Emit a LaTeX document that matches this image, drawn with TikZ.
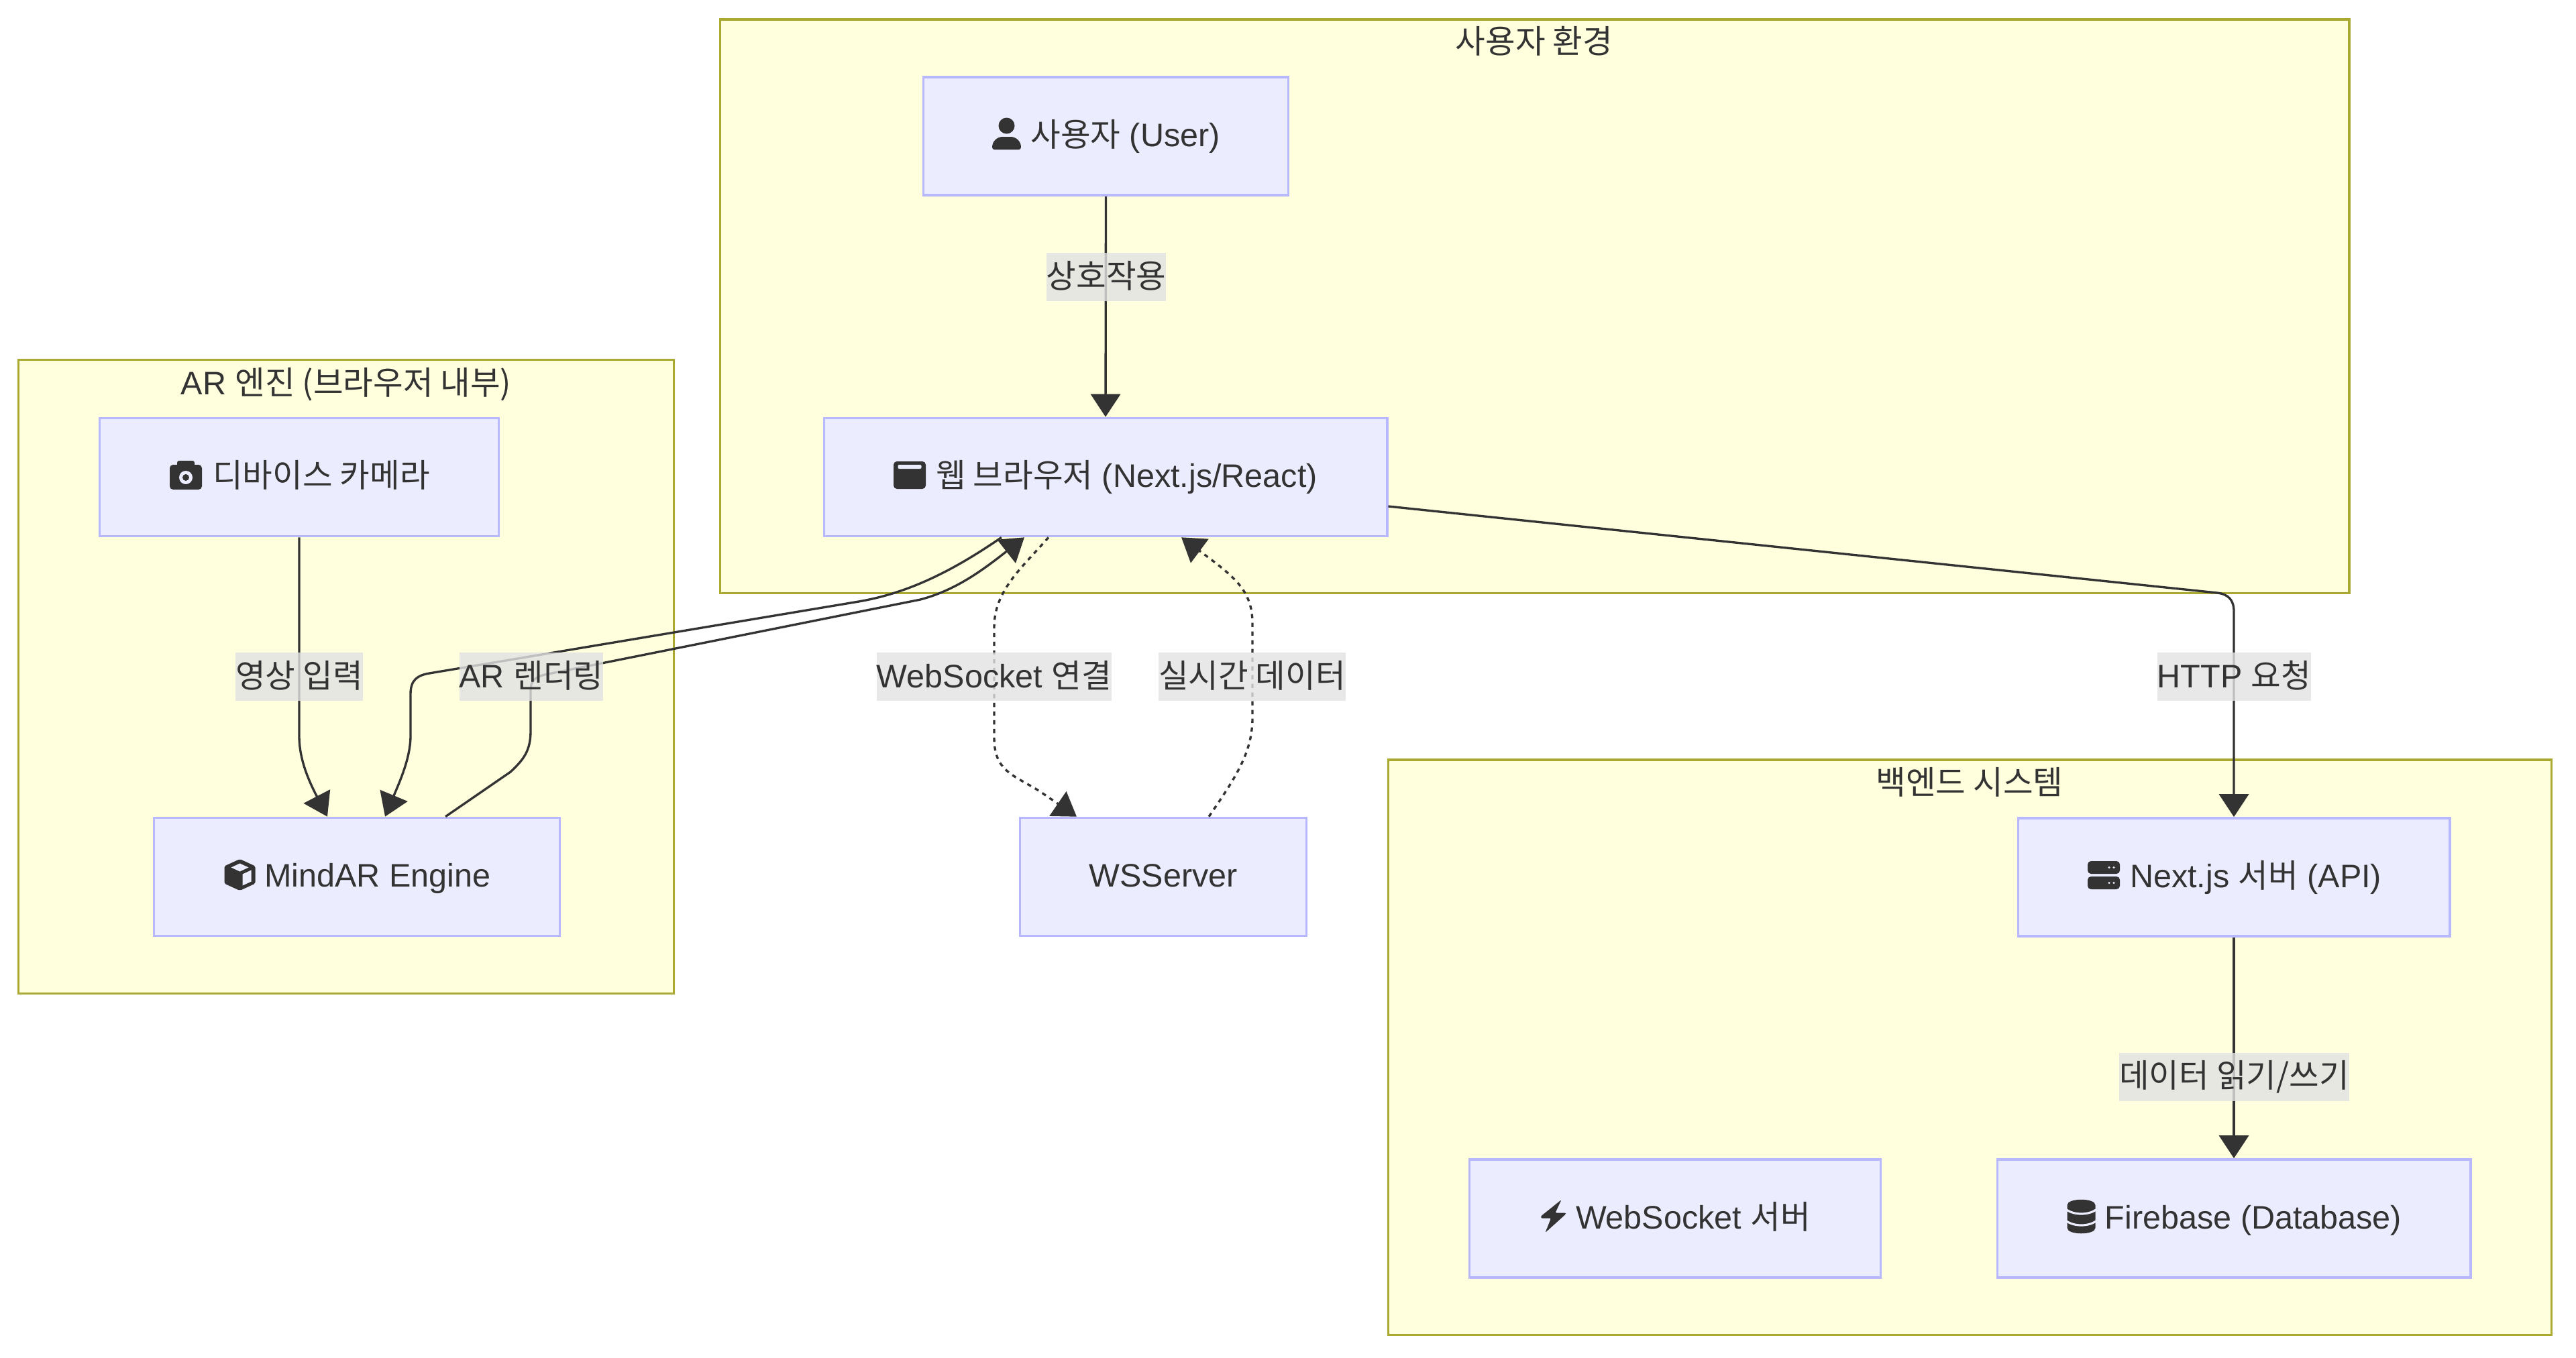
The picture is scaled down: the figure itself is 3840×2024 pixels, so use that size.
\documentclass[tikz,border=0pt]{standalone}
\usepackage{fontspec}
\setmainfont{Liberation Sans}
\newfontfamily\krfont{Noto Sans CJK KR}
\newcommand{\kr}[1]{{\krfont #1}}
\usetikzlibrary{arrows.meta}
\definecolor{inkc}{HTML}{333333}
\definecolor{boxc}{HTML}{ECECFF}
\definecolor{boxline}{HTML}{B8B8FF}
\definecolor{groupc}{HTML}{FFFFDE}
\definecolor{groupline}{HTML}{AAAA33}
\definecolor{tagc}{HTML}{E2E2E2}
\tikzset{
	usericon/.pic={
		\fill[inkc] (0,-12) circle (12);
		\fill[inkc] (-21.5,20) .. controls (-21.5,11) and (-14,4.5) .. (-6,4.5) -- (6,4.5) .. controls (14,4.5) and (21.5,11) .. (21.5,20) .. controls (21.5,22.5) and (20,23.5) .. (18,23.5) -- (-18,23.5) .. controls (-20,23.5) and (-21.5,22.5) .. (-21.5,20) -- cycle;
	},
	windowicon/.pic={
		\fill[inkc,rounded corners=.05cm] (-24,-20.5) rectangle (24,20.5);
		\fill[boxc,rounded corners=.02cm] (-17.5,-15.5) rectangle (17.5,-9.5);
	},
	cameraicon/.pic={
		\fill[inkc,rounded corners=.05cm] (-24,-15.5) rectangle (24,21.5);
		\fill[inkc,rounded corners=.03cm] (-13,-21.5) rectangle (13,-8);
		\fill[boxc] (0,3.5) circle (10);
		\fill[inkc] (0,3.5) circle (5);
	},
	cubeicon/.pic={
		\fill[inkc,rounded corners=.02cm] (0,-23.5) -- (23,-13) -- (23,13) -- (0,23.5) -- (-23,13) -- (-23,-13) -- cycle;
		\fill[boxc] (0,-17) -- (13,-11) -- (0,-5) -- (-13,-11) -- cycle;
		\fill[boxc] (4,-1) -- (17,-7) -- (17,10) -- (4,16) -- cycle;
	},
	servericon/.pic={
		\fill[inkc,rounded corners=.05cm] (-24,-21) rectangle (24,-2);
		\fill[inkc,rounded corners=.05cm] (-24,2) rectangle (24,21);
		\foreach \dotx in {8,15}{
			\fill[boxc] (\dotx,-11.5) circle (1.7);
			\fill[boxc] (\dotx,11.5) circle (1.7);
		}
	},
	dbicon/.pic={
		\fill[inkc] (-21,-17) .. controls (-21,-28) and (21,-28) .. (21,-17) -- (21,17) .. controls (21,28) and (-21,28) .. (-21,17) -- cycle;
		\draw[boxc,line width=.9pt] (-22,-10) .. controls (-10,-2) and (10,-2) .. (22,-10);
		\draw[boxc,line width=.9pt] (-22,7) .. controls (-10,15) and (10,15) .. (22,7);
	},
	bolticon/.pic={
		\fill[inkc,rounded corners=.015cm] (12,-24.5) -- (-18.5,0) -- (-18.5,3) -- (-3.5,3) -- (-12,24.5) -- (18.5,-3) -- (18.5,-5) -- (3,-5) -- cycle;
	}
}
\begin{document}
\begin{tikzpicture}[
x=.01cm,y=-.01cm,
every node/.style={text=inkc,font=\fontsize{13.8pt}{16pt}\selectfont,inner sep=0pt},
group/.style={draw=groupline,fill=groupc,line width=1pt},
grouptitle/.style={text height=.36cm,text depth=.08cm},
box/.style={draw=boxline,fill=boxc,line width=1pt,minimum height=1.76cm,text height=.38cm,text depth=.08cm},
tag/.style={fill=tagc,fill opacity=.8,text opacity=1,minimum height=.72cm,text height=.39cm,text depth=.07cm},
link/.style={draw=inkc,line width=.95pt,-{Triangle[length=3.4mm,width=4.4mm]}},
dotlink/.style={link,dash pattern=on 1.8pt off 1.9pt}
]
\useasboundingbox (0,0) rectangle (3840,2024);
\node[group,minimum width=24.27cm,minimum height=8.55cm] (envgroup) at (2287.5,456.5) {};
\node[group,minimum width=9.76cm,minimum height=9.44cm] (argroup) at (516,1009) {};
\node[group,minimum width=17.33cm,minimum height=8.57cm] (backgroup) at (2936.5,1561.5) {};
\node[grouptitle] (envtitle) at (2287,65) {\kr{사용자 환경}};
\node[grouptitle] (artitle) at (516,574) {AR \kr{엔진 (브라우저 내부)}};
\node[grouptitle] (backtitle) at (2936,1170) {\kr{백엔드 시스템}};

\node[box,minimum width=5.44cm] (user) at (1648.5,203) {\hspace*{5.8mm}\kr{사용자} (User)};
\node[box,minimum width=8.39cm] (browser) at (1648,711.5) {\hspace*{6.3mm}\kr{웹 브라우저} (Next.js/React)};
\node[box,minimum width=5.95cm] (camera) at (446,711.5) {\hspace*{6.6mm}\kr{디바이스 카메라}};
\node[box,minimum width=6.05cm] (mindar) at (532,1307.5) {\hspace*{6.2mm}MindAR Engine};
\node[box,minimum width=4.27cm] (wsserver) at (1734,1307.5) {WSServer};
\node[box,minimum width=6.43cm] (nextapi) at (3330,1308) {\hspace*{6.5mm}Next.js \kr{서버} (API)};
\node[box,minimum width=7.05cm] (firebase) at (3330,1817) {\hspace*{5.8mm}Firebase (Database)};
\node[box,minimum width=6.13cm] (wsbox) at (2497,1817) {\hspace*{5.4mm}WebSocket \kr{서버}};

\pic at ([shift={(-148,-3.5)}]user.center) {usericon};
\pic at ([shift={(-292,-3)}]browser.center) {windowicon};
\pic at ([shift={(-169,-3)}]camera.center) {cameraicon};
\pic at ([shift={(-174.5,-3)}]mindar.center) {cubeicon};
\pic at ([shift={(-194,-3)}]nextapi.center) {servericon};
\pic at ([shift={(-227.5,-3)}]firebase.center) {dbicon};
\pic at ([shift={(-181.5,-3.5)}]wsbox.center) {bolticon};

\draw[link] (user.south) -- (browser.north);
\draw[link] (camera.south) -- (446,1097) .. controls (446,1130) and (458,1160) .. ([xshift=-.44cm]mindar.north);
\draw[link] ([xshift=-1.55cm]browser.south) .. controls (1415,855) and (1350,885) .. (1280,897) -- (640,1004) .. controls (622,1007) and (612,1014) .. (612,1035) -- (612,1097) .. controls (612,1130) and (596,1165) .. ([xshift=.42cm]mindar.north);
\draw[link] ([xshift=1.32cm]mindar.north) -- (761,1151) .. controls (780,1133) and (791,1120) .. (791,1090) -- (791,1030) .. controls (791,1015) and (797,1010) .. (812,1006) -- (1372,894) .. controls (1425,880) and (1465,850) .. ([xshift=-1.21cm]browser.south);
\draw[dotlink] ([xshift=-.85cm]browser.south) .. controls (1525,845) and (1482,880) .. (1482,935) -- (1482,1100) .. controls (1482,1150) and (1510,1155) .. (1550,1180) -- ([xshift=-1.29cm]wsserver.north);
\draw[dotlink] ([xshift=.68cm]wsserver.north) .. controls (1845,1155) and (1867,1120) .. (1867,1070) -- (1867,930) .. controls (1867,880) and (1840,860) .. ([xshift=1.13cm]browser.south);
\draw[link] ([yshift=-.435cm]browser.east) -- (3305,884) .. controls (3322,886) and (3330,895) .. (3330,912) -- (nextapi.north);
\draw[link] (nextapi.south) -- (firebase.north);

\node[tag] (taguse) at (1649,413) {\kr{상호작용}};
\node[tag] (tagvideo) at (446,1009) {\kr{영상 입력}};
\node[tag] (tagrender) at (792,1009) {AR \kr{렌더링}};
\node[tag] (tagsocket) at (1482,1009) {WebSocket \kr{연결}};
\node[tag] (tagdata) at (1866.5,1009) {\kr{실시간 데이터}};
\node[tag] (taghttp) at (3330.5,1009) {HTTP \kr{요청}};
\node[tag] (tagrw) at (3330.5,1605.5) {\kr{데이터 읽기/쓰기}};
\end{tikzpicture}
\end{document}
